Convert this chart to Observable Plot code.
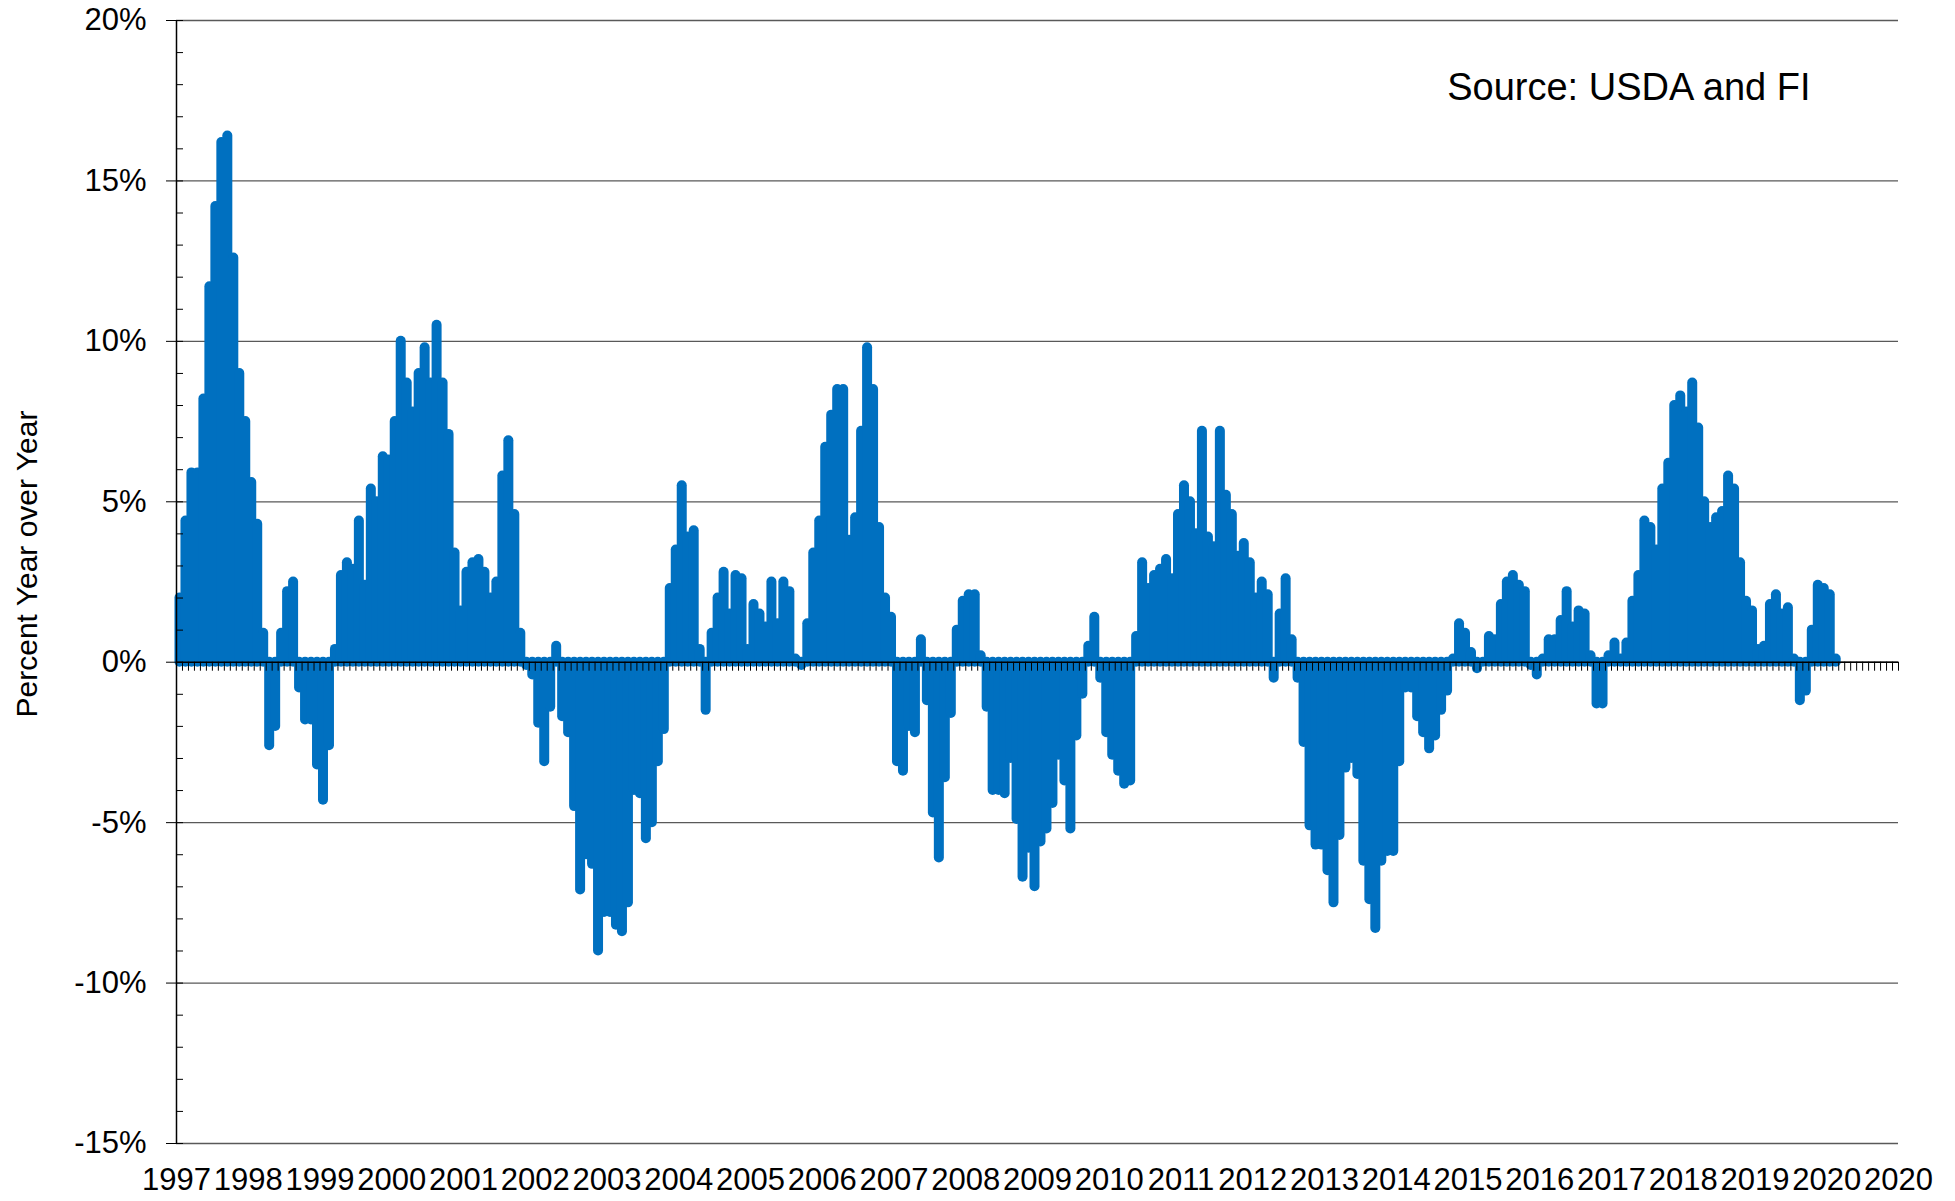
<!DOCTYPE html>
<html>
<head>
<meta charset="utf-8">
<script src="https://cdn.jsdelivr.net/npm/d3@7"></script>
<script src="https://cdn.jsdelivr.net/npm/@observablehq/plot@0.6"></script>
<style>
  html, body { margin: 0; padding: 0; background: #fff; }
  #chart { width: 1955px; height: 1201px; }
</style>
</head>
<body>
<div id="chart"></div>
<script>
// Year-over-year percent change, monthly, Jan 1997 – Feb 2020
const yoy1997 = [2.0, 4.4, 5.9, 5.9, 8.2, 11.7, 14.2, 16.2, 16.4, 12.6, 9.0, 7.5];
const yoy1998 = [5.6, 4.3, 0.9, -2.6, -2.0, 0.9, 2.2, 2.5, -0.8, -1.8, -1.8, -3.2];
const yoy1999 = [-4.3, -2.6, 0.4, 2.7, 3.1, 2.9, 4.4, 2.4, 5.4, 5.0, 6.4, 6.3];
const yoy2000 = [7.5, 10.0, 8.7, 7.8, 9.0, 9.8, 8.7, 10.5, 8.7, 7.1, 3.4, 1.6];
const yoy2001 = [2.8, 3.1, 3.2, 2.8, 2.0, 2.5, 5.8, 6.9, 4.6, 0.9, -0.1, -0.4];
const yoy2002 = [-1.9, -3.1, -1.4, 0.5, -1.7, -2.2, -4.5, -7.1, -6.0, -6.3, -9.0, -7.8];
const yoy2003 = [-7.8, -8.2, -8.4, -7.5, -4.0, -4.1, -5.5, -5.0, -3.1, -2.1, 2.3, 3.5];
const yoy2004 = [5.5, 3.9, 4.1, 0.4, -1.5, 0.9, 2.0, 2.8, 1.5, 2.7, 2.6, 0.4];
const yoy2005 = [1.8, 1.5, 1.1, 2.5, 1.2, 2.5, 2.2, 0.1, -0.1, 1.2, 3.4, 4.4];
const yoy2006 = [6.7, 7.7, 8.5, 8.5, 3.8, 4.5, 7.2, 9.8, 8.5, 4.2, 2.0, 1.4];
const yoy2007 = [-3.1, -3.4, -2.0, -2.2, 0.7, -1.2, -4.7, -6.1, -3.6, -1.6, 1.0, 1.9];
const yoy2008 = [2.1, 2.1, 0.2, -1.4, -4.0, -4.0, -4.1, -3.0, -4.9, -6.7, -5.8, -7.0];
const yoy2009 = [-5.6, -5.2, -4.4, -2.9, -3.7, -5.2, -2.3, -1.0, 0.5, 1.4, -0.5, -2.2];
const yoy2010 = [-2.9, -3.4, -3.8, -3.7, 0.8, 3.1, 2.3, 2.7, 2.9, 3.2, 2.6, 4.6];
const yoy2011 = [5.5, 5.0, 4.0, 7.2, 3.9, 3.6, 7.2, 5.2, 4.6, 3.3, 3.7, 3.1];
const yoy2012 = [2.0, 2.5, 2.1, -0.5, 1.5, 2.6, 0.7, -0.5, -2.5, -5.1, -5.7, -5.7];
const yoy2013 = [-6.5, -7.5, -5.4, -3.3, -3.0, -3.5, -6.2, -7.4, -8.3, -6.2, -5.9, -5.9];
const yoy2014 = [-3.1, -0.8, -0.8, -1.7, -2.2, -2.7, -2.3, -1.5, -0.9, 0.1, 1.2, 0.9];
const yoy2015 = [0.3, -0.2, 0.0, 0.8, 0.7, 1.8, 2.5, 2.7, 2.4, 2.2, -0.1, -0.4];
const yoy2016 = [0.1, 0.7, 0.7, 1.3, 2.2, 1.1, 1.6, 1.5, 0.2, -1.3, -1.3, 0.2];
const yoy2017 = [0.6, 0.1, 0.6, 1.9, 2.7, 4.4, 4.2, 3.5, 5.4, 6.2, 8.0, 8.3];
const yoy2018 = [7.8, 8.7, 7.3, 5.0, 4.2, 4.5, 4.7, 5.8, 5.4, 3.1, 1.9, 1.6];
const yoy2019 = [0.4, 0.5, 1.8, 2.1, 1.5, 1.7, 0.1, -1.2, -0.9, 1.0, 2.4, 2.3];
const yoy2020 = [2.1, 0.1];

const yearLabels = ["1997","1998","1999","2000","2001","2002","2003","2004","2005","2006",
  "2007","2008","2009","2010","2011","2012","2013","2014","2015","2016","2017","2018","2019","2020","2020"];
const yTicks = [-15, -10, -5, 0, 5, 10, 15, 20];
const monthsPerYear = 12;
const totalMonths = (yearLabels.length - 1) * monthsPerYear;

const yoy = [].concat(yoy1997, yoy1998, yoy1999, yoy2000, yoy2001, yoy2002, yoy2003, yoy2004,
  yoy2005, yoy2006, yoy2007, yoy2008, yoy2009, yoy2010, yoy2011, yoy2012, yoy2013, yoy2014,
  yoy2015, yoy2016, yoy2017, yoy2018, yoy2019, yoy2020);

const monthTicks = d3.range(0, totalMonths + 1);
const yearTickPos = d3.range(0, totalMonths + 1, monthsPerYear);
const minorY = d3.range(yTicks[0], yTicks[yTicks.length - 1] + 1, 1);

const chart = Plot.plot({
  width: 1955,
  height: 1201,
  marginLeft: 176,
  marginRight: 57,
  marginTop: 20,
  marginBottom: 58,
  style: {fontFamily: "'Liberation Sans', Arial, sans-serif", fontSize: "31px", color: "#000", background: "#fff"},
  x: {domain: [0, totalMonths], axis: null},
  y: {domain: [yTicks[0], yTicks[yTicks.length - 1]], axis: null},
  marks: [
    Plot.ruleY(yTicks, {y: d => d, stroke: "#595959", strokeWidth: 1.3}),
    Plot.ruleX(yoy, {x: (d, i) => i + 0.5, y: d => d, stroke: "#0070C0", strokeWidth: 10, strokeLinecap: "round"}),
    Plot.ruleY([0], {y: d => d, stroke: "#000", strokeWidth: 1.5}),
    Plot.ruleX(monthTicks, {x: d => d, y1: 0, y2: 0, insetBottom: -9, stroke: "#000", strokeWidth: 1}),
    Plot.ruleY(minorY, {y: d => d, x1: 0, x2: 0, insetRight: -7, stroke: "#000", strokeWidth: 1}),
    Plot.ruleX([0], {x: d => d, stroke: "#000", strokeWidth: 1.5}),
    Plot.axisY(yTicks, {tickSize: 10, tickPadding: 20, tickFormat: d => `${d}%`, fontSize: 31, label: null, stroke: "#000"}),
    Plot.axisX(yearTickPos, {tickSize: 0, tickPadding: 24, tickFormat: d => yearLabels[d / monthsPerYear], fontSize: 31, label: null}),
    Plot.text(["Percent Year over Year"], {text: d => d, frameAnchor: "left", rotate: -90, dx: -149, dy: -18, fontSize: 30, textAnchor: "middle"}),
    Plot.text(["Source: USDA and FI"], {text: d => d, frameAnchor: "top-right", textAnchor: "end", dx: -88, dy: 53, fontSize: 38})
  ]
});
document.getElementById("chart").appendChild(chart);
</script>
</body>
</html>
